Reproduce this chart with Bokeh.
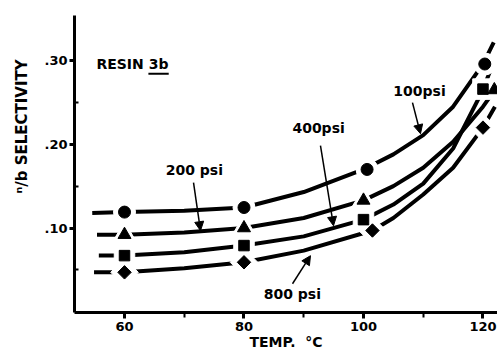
import math
from bokeh.plotting import figure
from bokeh.models import Range1d, FixedTicker, Label, Arrow, NormalHead
from bokeh.embed import file_html
from bokeh.resources import INLINE

# ---------------- data ----------------
x_major_ticks = [60, 80, 100, 120]
x_minor_ticks = [70, 90, 110]
y_major_ticks = [0.10, 0.20, 0.30]
y_minor_ticks = [0.05, 0.15, 0.25]
y_tick_labels = [".10", ".20", ".30"]

series_names = ["100psi", "200 psi", "400psi", "800 psi"]

# measured points
t_100 = [60, 80, 100.6, 120.3]
s_100 = [0.119, 0.1245, 0.170, 0.296]
t_200 = [60, 80, 100, 121.9]
s_200 = [0.092, 0.100, 0.133, 0.265]
t_400 = [60, 80, 100, 120]
s_400 = [0.067, 0.079, 0.110, 0.266]
t_800 = [60, 80, 101.5, 120]
s_800 = [0.047, 0.059, 0.097, 0.220]

# drawn smooth curves
ct_100 = [54.6, 60, 70, 80, 90, 100, 105, 110, 115, 120, 121.8]
cs_100 = [0.118, 0.119, 0.1205, 0.1245, 0.143, 0.170, 0.188, 0.211, 0.245, 0.296, 0.322]
ct_200 = [55.4, 60, 70, 80, 90, 100, 105, 110, 115, 120, 122, 123]
cs_200 = [0.092, 0.092, 0.0945, 0.100, 0.112, 0.133, 0.150, 0.172, 0.203, 0.245, 0.265, 0.280]
ct_400 = [55.7, 60, 70, 80, 90, 100, 105, 110, 115, 120, 121.3]
cs_400 = [0.067, 0.067, 0.071, 0.079, 0.090, 0.110, 0.128, 0.153, 0.195, 0.265, 0.290]
ct_800 = [54.9, 60, 70, 80, 90, 101.5, 105, 110, 115, 120, 122]
cs_800 = [0.047, 0.047, 0.052, 0.059, 0.073, 0.097, 0.112, 0.140, 0.172, 0.220, 0.245]

# ---------------- figure ----------------
FONT = "DejaVu Sans"

p = figure(width=497, height=353,
           x_range=Range1d(51.63, 122.43), y_range=Range1d(-0.001, 0.354),
           output_backend="svg", toolbar_location=None,
           min_border_left=74, min_border_right=0,
           min_border_top=15, min_border_bottom=41)
p.outline_line_color = None
p.grid.visible = False
p.background_fill_color = "white"
p.border_fill_color = "white"

# axes
p.xaxis.ticker = FixedTicker(ticks=x_major_ticks, minor_ticks=x_minor_ticks)
p.yaxis.ticker = FixedTicker(ticks=y_major_ticks, minor_ticks=y_minor_ticks)
p.yaxis.major_label_overrides = {t: l for t, l in zip(y_major_ticks, y_tick_labels)}

for ax in (p.xaxis[0], p.yaxis[0]):
    ax.axis_line_width = 3
    ax.axis_line_color = "black"
    ax.major_tick_line_width = 3
    ax.minor_tick_line_width = 2
    ax.major_tick_line_color = "black"
    ax.minor_tick_line_color = "black"
    ax.major_label_text_font = FONT
    ax.major_label_text_font_style = "bold"
    ax.major_label_text_font_size = "13px"
    ax.major_label_text_color = "black"
    ax.axis_label_text_font = FONT
    ax.axis_label_text_font_style = "bold"
    ax.axis_label_text_color = "black"

p.xaxis.major_tick_in = 0
p.xaxis.major_tick_out = 6
p.xaxis.minor_tick_in = 0
p.xaxis.minor_tick_out = 5
p.xaxis.major_label_standoff = 3
p.xaxis.axis_label = "TEMP.\u00a0\u00a0°C"
p.xaxis.axis_label_text_font_size = "14px"
p.xaxis.axis_label_standoff = 0

p.yaxis.major_tick_in = 0
p.yaxis.major_tick_out = 5
p.yaxis.minor_tick_in = 4
p.yaxis.minor_tick_out = 0
p.yaxis.major_label_standoff = 2
p.yaxis.axis_label = "\u2003" * 5 + "ⁿ/b SELECTIVITY"
p.yaxis.axis_label_text_font_size = "15px"
p.yaxis.axis_label_standoff = 10

# curves
LW = 4
for ct, cs in [(ct_100, cs_100), (ct_200, cs_200), (ct_400, cs_400), (ct_800, cs_800)]:
    p.line(ct, cs, line_color="black", line_width=LW, line_cap="butt")

# markers: white halo first (gives the gaps in the lines), then black marker
marker_specs = [
    (t_100, s_100, "circle", 12, 0),
    (t_200, s_200, "triangle", 13, 0),
    (t_400, s_400, "square", 10.5, 0),
    (t_800, s_800, "square", 9.5, math.pi / 4),
]
HALO = 10
for t, s, m, size, ang in marker_specs:
    p.scatter(t, s, marker=m, size=size + HALO, angle=ang,
              fill_color="white", line_color="white")
for t, s, m, size, ang in marker_specs:
    p.scatter(t, s, marker=m, size=size, angle=ang,
              fill_color="black", line_color="black")

# ---------------- annotations ----------------
def lab(x, y, text, size="14px", style="bold", align="left", angle=0.0, baseline="middle"):
    p.add_layout(Label(x=x, y=y, text=text, text_font=FONT, text_font_size=size,
                       text_font_style=style, text_align=align, text_baseline=baseline,
                       angle=angle, text_color="black"))

# resin label
lab(55.3, 0.296, "RESIN 3b", size="14px")
p.segment(x0=[64.0], y0=[0.2845], x1=[67.4], y1=[0.2845], line_color="black", line_width=2)

# series labels
lab(105.0, 0.264, series_names[0])
lab(66.9, 0.169, series_names[1])
lab(88.1, 0.220, series_names[2])
lab(83.3, 0.0215, series_names[3])

# arrows
arrows = [
    (108.2, 0.2498, 109.54, 0.2127),
    (71.55, 0.1542, 72.72, 0.0968),
    (92.8, 0.1984, 94.98, 0.1027),
    (88.12, 0.0334, 91.13, 0.0669),
]
for xs, ys, xe, ye in arrows:
    p.add_layout(Arrow(end=NormalHead(size=9, fill_color="black", line_color="black"),
                       x_start=xs, y_start=ys, x_end=xe, y_end=ye,
                       line_color="black", line_width=1.5))

open("out.html", "w").write(file_html(p, INLINE))
